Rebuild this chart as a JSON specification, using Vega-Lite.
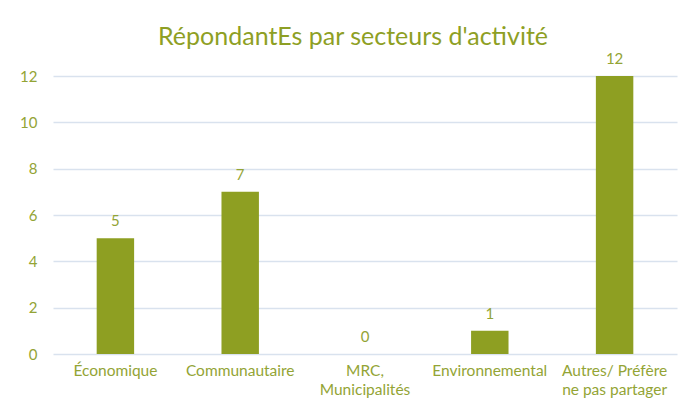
{
  "$schema": "https://vega.github.io/schema/vega-lite/v6.json",
  "width": 624,
  "height": 278,
  "autosize": "none",
  "padding": {"left": 53, "top": 76, "right": 5, "bottom": 55},
  "background": "white",
  "title": {
    "text": "RépondantEs par secteurs d'activité",
    "font": "Lato",
    "fontSize": 25,
    "fontWeight": "normal",
    "color": "#8E9F24",
    "anchor": "middle",
    "dx": -12,
    "offset": 2
  },
  "data": {
    "values": [
      {"secteur": "Économique", "n": 5},
      {"secteur": "Communautaire", "n": 7},
      {"secteur": "MRC, Municipalités", "n": 0},
      {"secteur": "Environnemental", "n": 1},
      {"secteur": "Autres/ Préfère ne pas partager", "n": 12}
    ]
  },
  "encoding": {
    "x": {
      "field": "secteur",
      "type": "nominal",
      "sort": null,
      "scale": {"paddingInner": 0.7, "paddingOuter": 0.35},
      "axis": {
        "title": null,
        "labelAngle": 0,
        "domain": false,
        "ticks": false,
        "labelPadding": 9,
        "labelFont": "Lato",
        "labelFontSize": 15.5,
        "labelColor": "#93A435",
        "labelLineHeight": 19,
        "labelExpr": "datum.value == 'MRC, Municipalités' ? ['MRC,', 'Municipalités'] : datum.value == 'Autres/ Préfère ne pas partager' ? ['Autres/ Préfère', 'ne pas partager'] : datum.value"
      }
    },
    "y": {
      "field": "n",
      "type": "quantitative",
      "scale": {"domain": [0, 12]},
      "axis": {
        "title": null,
        "values": [0, 2, 4, 6, 8, 10, 12],
        "domain": false,
        "ticks": false,
        "labelPadding": 16,
        "labelFont": "Lato",
        "labelFontSize": 15,
        "labelColor": "#93A435",
        "gridColor": "#D9E2EE",
        "gridWidth": 1.5
      }
    }
  },
  "layer": [
    {"mark": {"type": "bar", "color": "#8E9F22"}},
    {
      "mark": {"type": "text", "baseline": "bottom", "dy": -9, "font": "Lato", "fontSize": 15, "color": "#93A435"},
      "encoding": {"text": {"field": "n", "type": "quantitative"}}
    }
  ],
  "config": {"view": {"stroke": null}}
}
